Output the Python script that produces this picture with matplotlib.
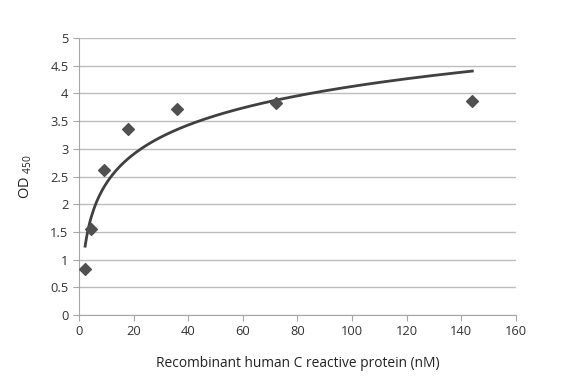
import numpy as np
import matplotlib
matplotlib.use("Agg")
import matplotlib.pyplot as plt

plt.rcParams.update({"font.family": "Open Sans",
                     "mathtext.fontset": "custom",
                     "mathtext.rm": "Open Sans",
                     "mathtext.it": "Open Sans"})

# concentration (nM) and measured OD450
conc = [2.25, 4.5, 9, 18, 36, 72, 144]
od = [0.83, 1.55, 2.62, 3.35, 3.72, 3.83, 3.86]

# logarithmic trendline fitted to the points
slope, intercept = np.polyfit(np.log(conc), od, 1)
x_fit = np.linspace(min(conc), max(conc), 300)
y_fit = slope * np.log(x_fit) + intercept

fig = plt.figure(figsize=(5.82, 3.82), dpi=100)
ax = fig.add_axes([0.1357, 0.1754, 0.7509, 0.7251])

ax.plot(x_fit, y_fit, color="#404040", lw=2.0, zorder=3)
ax.scatter(conc, od, marker="D", s=36, color="#505050", zorder=4)

ax.set_xlim(0, 160)
ax.set_ylim(0, 5)
ax.set_xticks(np.arange(0, 161, 20))
ax.set_yticks(np.arange(0, 5.01, 0.5))
ax.set_yticklabels(["0", "0.5", "1", "1.5", "2", "2.5", "3", "3.5", "4", "4.5", "5"])
ax.yaxis.grid(True, color="#bdbdbd", lw=1.0)
ax.set_axisbelow(True)

for s in ["top", "right"]:
    ax.spines[s].set_visible(False)
for s in ["left", "bottom"]:
    ax.spines[s].set_color("#a6a6a6")
ax.tick_params(axis="both", colors="#a6a6a6", labelcolor="#333333",
               labelsize=9.3, length=4, direction="out")

ax.set_xlabel("Recombinant human C reactive protein (nM)", fontsize=9.9,
              color="#222222", labelpad=13)
ax.set_ylabel(r"OD $_{450}$", fontsize=10.5, color="#222222", labelpad=12)

fig.savefig("out.png", dpi=100)
